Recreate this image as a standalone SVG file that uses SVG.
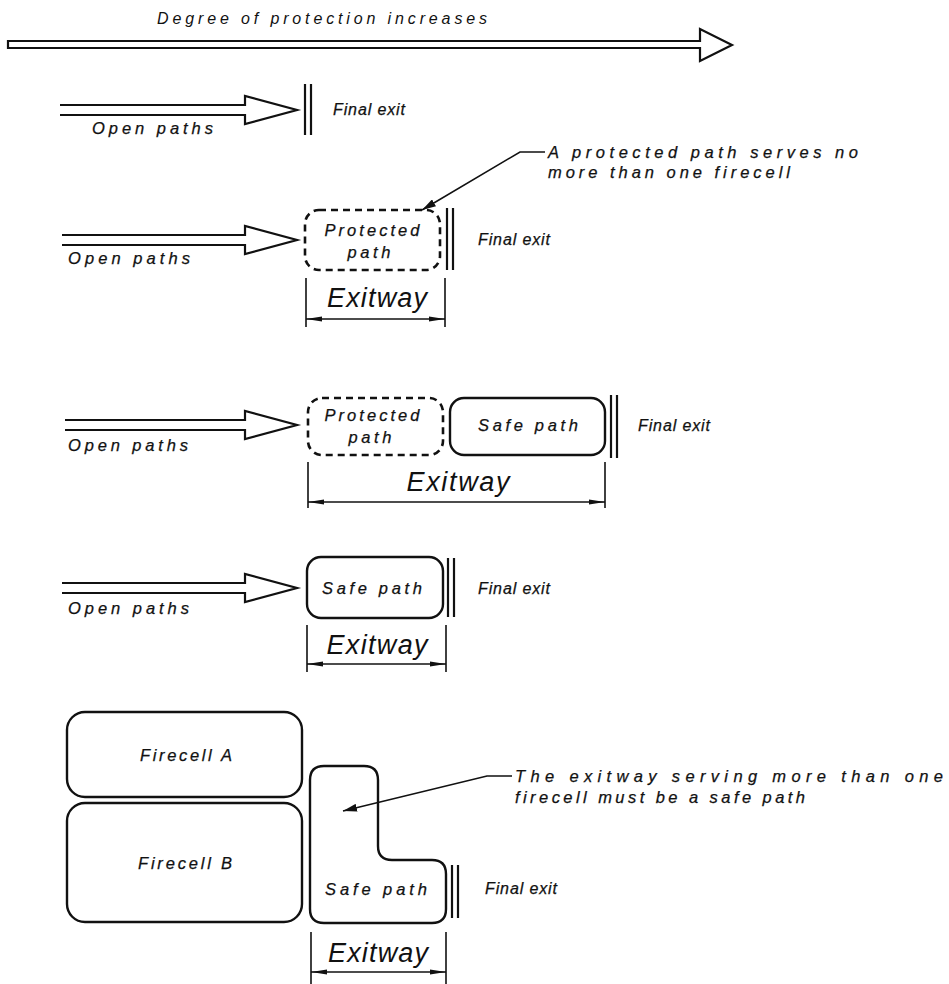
<svg xmlns="http://www.w3.org/2000/svg" width="949" height="984" viewBox="0 0 949 984">
<style>
text{font-family:"Liberation Sans",Arial,sans-serif;font-style:italic;fill:#111;}
.lbl{font-size:16.5px;stroke:#111;stroke-width:0.25;}
.fx{font-size:16px;stroke:#111;stroke-width:0.25;}
.ew{font-size:27px;font-weight:normal;}
.ttl{font-size:16px;}
.ln{fill:none;stroke:#111;stroke-width:2.2;}
.thin{fill:none;stroke:#111;stroke-width:1.6;}
.box{fill:none;stroke:#111;stroke-width:2.4;}
.dash{fill:none;stroke:#111;stroke-width:2.6;stroke-dasharray:7 5;}
.arr{fill:#fff;stroke:#111;stroke-width:2.2;stroke-linejoin:miter;}
</style>
<defs>
<marker id="dh" viewBox="0 0 16 6" refX="16" refY="3" markerWidth="16" markerHeight="6" markerUnits="userSpaceOnUse" orient="auto-start-reverse"><path d="M0,0.5 L16,3 L0,5.5 Z" fill="#111"/></marker>
<marker id="lh" viewBox="0 0 14 8" refX="14" refY="4" markerWidth="14" markerHeight="8" markerUnits="userSpaceOnUse" orient="auto-start-reverse"><path d="M0,0 L14,4 L0,8 Z" fill="#111"/></marker>
</defs>

<g id="title">
<text class="ttl" x="157" y="24" textLength="330" lengthAdjust="spacing">Degree of protection increases</text>
<path class="arr" d="M8,41 L700,41 L700,29 L732,45 L700,61 L700,48 L8,48 Z"/>
</g>

<g id="row1">
<path class="arr" d="M60,105 L245,105 L245,96 L297,110 L245,124 L245,115 L60,115"/>
<text class="lbl" x="92" y="134" textLength="121" lengthAdjust="spacing">Open paths</text>
<line class="ln" x1="305" y1="84" x2="305" y2="135"/><line class="ln" x1="311" y1="84" x2="311" y2="135"/>
<text class="fx" x="333" y="115" textLength="72" lengthAdjust="spacing">Final exit</text>
</g>

<g id="row2">
<path class="arr" d="M62,235 L245,235 L245,226 L297,240 L245,254 L245,245 L62,245"/>
<text class="lbl" x="68" y="264" textLength="122" lengthAdjust="spacing">Open paths</text>
<rect class="dash" x="305" y="210" width="135" height="60" rx="14"/>
<text class="lbl" x="372" y="236" text-anchor="middle" textLength="95" lengthAdjust="spacing">Protected</text>
<text class="lbl" x="369" y="258" text-anchor="middle" textLength="43" lengthAdjust="spacing">path</text>
<line class="ln" x1="447" y1="208" x2="447" y2="270"/><line class="ln" x1="453" y1="208" x2="453" y2="270"/>
<text class="fx" x="478" y="245" textLength="72" lengthAdjust="spacing">Final exit</text>
<line class="thin" x1="306" y1="278" x2="306" y2="327"/><line class="thin" x1="445" y1="278" x2="445" y2="327"/>
<line class="thin" x1="306" y1="319" x2="445" y2="319" marker-start="url(#dh)" marker-end="url(#dh)"/>
<text class="ew" x="377" y="307" text-anchor="middle" textLength="100" lengthAdjust="spacing">Exitway</text>
</g>

<g id="note1">
<polyline class="thin" points="422,210 520,152 545,152" marker-start="url(#lh)"/>
<text class="lbl" x="548" y="158" textLength="310" lengthAdjust="spacing">A protected path serves no</text>
<text class="lbl" x="548" y="178" textLength="242" lengthAdjust="spacing">more than one firecell</text>
</g>

<g id="row3">
<path class="arr" d="M65,420 L245,420 L245,411 L297,425 L245,439 L245,430 L65,430"/>
<text class="lbl" x="68" y="451" textLength="120" lengthAdjust="spacing">Open paths</text>
<rect class="dash" x="308" y="398" width="135" height="57" rx="14"/>
<text class="lbl" x="372" y="421" text-anchor="middle" textLength="95" lengthAdjust="spacing">Protected</text>
<text class="lbl" x="370" y="443" text-anchor="middle" textLength="43" lengthAdjust="spacing">path</text>
<rect class="box" x="450" y="398" width="155" height="57" rx="14"/>
<text class="lbl" x="528" y="431" text-anchor="middle" textLength="100" lengthAdjust="spacing">Safe path</text>
<line class="ln" x1="611" y1="395" x2="611" y2="458"/><line class="ln" x1="617" y1="395" x2="617" y2="458"/>
<text class="fx" x="638" y="431" textLength="72" lengthAdjust="spacing">Final exit</text>
<line class="thin" x1="308" y1="462" x2="308" y2="508"/><line class="thin" x1="605" y1="462" x2="605" y2="508"/>
<line class="thin" x1="308" y1="502" x2="605" y2="502" marker-start="url(#dh)" marker-end="url(#dh)"/>
<text class="ew" x="458" y="491" text-anchor="middle" textLength="103" lengthAdjust="spacing">Exitway</text>
</g>

<g id="row4">
<path class="arr" d="M62,583 L245,583 L245,574 L297,588 L245,602 L245,593 L62,593"/>
<text class="lbl" x="68" y="614" textLength="121" lengthAdjust="spacing">Open paths</text>
<rect class="box" x="307" y="557" width="136" height="61" rx="14"/>
<text class="lbl" x="372" y="594" text-anchor="middle" textLength="100" lengthAdjust="spacing">Safe path</text>
<line class="ln" x1="448" y1="558" x2="448" y2="617"/><line class="ln" x1="454" y1="558" x2="454" y2="617"/>
<text class="fx" x="478" y="594" textLength="72" lengthAdjust="spacing">Final exit</text>
<line class="thin" x1="307" y1="625" x2="307" y2="672"/><line class="thin" x1="446" y1="625" x2="446" y2="672"/>
<line class="thin" x1="307" y1="664" x2="446" y2="664" marker-start="url(#dh)" marker-end="url(#dh)"/>
<text class="ew" x="377" y="654" text-anchor="middle" textLength="101" lengthAdjust="spacing">Exitway</text>
</g>

<g id="firecellA">
<rect class="box" x="67" y="712" width="235" height="85" rx="18"/>
<text class="lbl" x="186" y="761" text-anchor="middle" textLength="92" lengthAdjust="spacing">Firecell A</text>
</g>
<g id="firecellB">
<rect class="box" x="67" y="803" width="235" height="119" rx="18"/>
<text class="lbl" x="185" y="869" text-anchor="middle" textLength="94" lengthAdjust="spacing">Firecell B</text>
</g>

<g id="row5">
<path class="box" d="M324,766 H364 Q378,766 378,780 V846 Q378,860 392,860 H432 Q446,860 446,874 V909 Q446,923 432,923 H324 Q310,923 310,909 V780 Q310,766 324,766 Z"/>
<text class="lbl" x="376" y="895" text-anchor="middle" textLength="102" lengthAdjust="spacing">Safe path</text>
<line class="ln" x1="452" y1="865" x2="452" y2="918"/><line class="ln" x1="458" y1="865" x2="458" y2="918"/>
<text class="fx" x="485" y="894" textLength="72" lengthAdjust="spacing">Final exit</text>
<line class="thin" x1="311" y1="932" x2="311" y2="984"/><line class="thin" x1="446" y1="932" x2="446" y2="984"/>
<line class="thin" x1="311" y1="972" x2="446" y2="972" marker-start="url(#dh)" marker-end="url(#dh)"/>
<text class="ew" x="378" y="962" text-anchor="middle" textLength="100" lengthAdjust="spacing">Exitway</text>
</g>

<g id="note2">
<polyline class="thin" points="343,811 487,776 512,776" marker-start="url(#lh)"/>
<text class="lbl" x="515" y="782" textLength="428" lengthAdjust="spacing">The exitway serving more than one</text>
<text class="lbl" x="515" y="803" textLength="290" lengthAdjust="spacing">firecell must be a safe path</text>
</g>
</svg>
